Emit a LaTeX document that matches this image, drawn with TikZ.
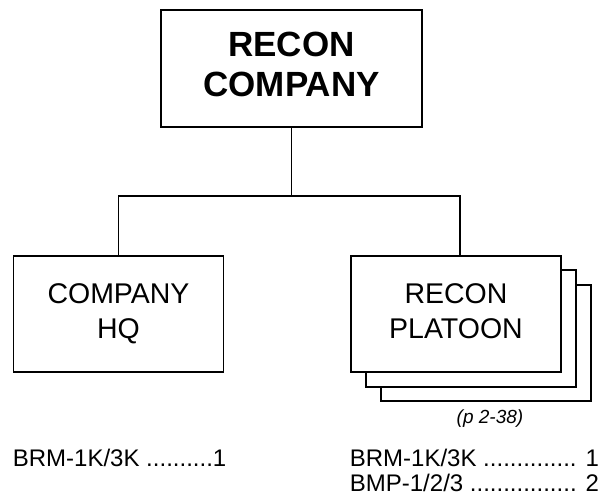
\documentclass[tikz,border=0pt]{standalone}
\usepackage{fontspec}
\setmainfont{Liberation Sans}
\usepackage{tikz}
\usetikzlibrary{positioning}

\begin{document}
\begin{tikzpicture}[x=1pt,y=-1pt,line width=1.8pt,
  topbox/.style={draw,fill=white,minimum width=261pt,minimum height=117pt,
    align=center,text depth=8pt,font=\fontsize{35}{40}\selectfont\bfseries},
  unitbox/.style={draw,fill=white,minimum width=210pt,minimum height=116.5pt,
    align=center,text depth=6pt,font=\fontsize{28.5}{35}\selectfont},
  listtext/.style={inner sep=0pt,font=\fontsize{24}{25}\selectfont}]
  \useasboundingbox (0,0) rectangle (603,499);
  % command
  \node[topbox] (recco) at (291.5,68.5) {RECON\\COMPANY};
  % subordinate units
  \node[unitbox] (hq) at (118.5,314) {COMPANY\\HQ};
  \node[unitbox] (plt3) at (486,343) {};
  \node[unitbox] (plt2) at (471,328.5) {};
  \node[unitbox] (plt) at (456,314) {RECON\\PLATOON};
  \node[inner sep=0pt,font=\fontsize{19}{24}\selectfont\itshape] (pref) at (490,419) {(p 2-38)};
  % connectors
  \coordinate (bus) at (291.5,196);
  \draw (recco.south) -- (bus);
  \draw (hq.north) |- (bus) -| ([xshift=4pt]plt.north);
  % equipment
  \node[listtext,anchor=base west] (hqbrm) at (12,466) {BRM-1K/3K ..........1};
  \node[listtext,anchor=base west] (pltbrm) at (349,466) {BRM-1K/3K .............. 1};
  \node[listtext,anchor=base west] (pltbmp) at (349,491) {BMP-1/2/3 ................ 2};
\end{tikzpicture}
\end{document}
